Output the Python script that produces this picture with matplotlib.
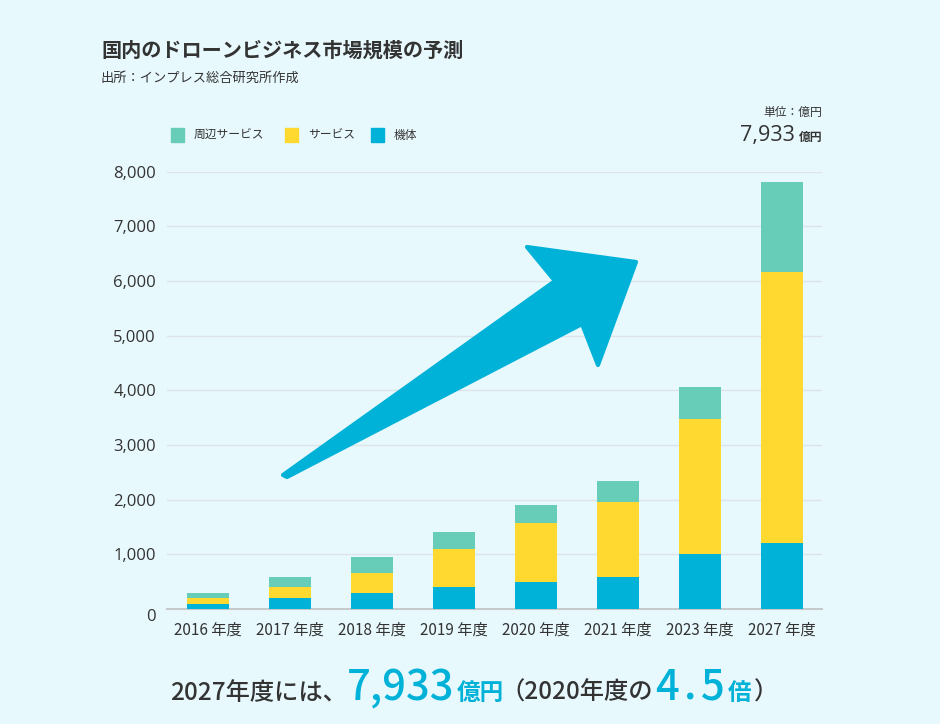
import numpy as np
import matplotlib
matplotlib.use('Agg')
import matplotlib.pyplot as plt
from matplotlib.patches import Polygon, Rectangle
import matplotlib.transforms as mtransforms

plt.rcParams['font.family'] = ['Noto Sans CJK JP', 'DejaVu Sans']

# data (億円)
years = ['2016 年度', '2017 年度', '2018 年度', '2019 年度',
         '2020 年度', '2021 年度', '2023 年度', '2027 年度']
kitai = [90, 195, 293, 395, 490, 585, 1000, 1205]          # 機体
service = [105, 200, 357, 695, 1080, 1370, 2470, 4965]     # サービス
shuhen = [98, 195, 300, 310, 340, 385, 600, 1640]          # 周辺サービス
yticks = [0, 1000, 2000, 3000, 4000, 5000, 6000, 7000, 8000]

BG = '#e8f9fe'
BLUE = '#00b1d8'
YELLOW = '#ffd92f'
TEAL = '#68cdb8'
DARK = '#333333'

W, H = 940, 724
fig = plt.figure(figsize=(W / 100, H / 100), dpi=100, facecolor=BG)
ax = fig.add_axes([167 / W, (H - 609) / H, 655 / W, (609 - 171.7) / H])
ax.set_facecolor(BG)

x = np.arange(len(years))
kitai = np.array(kitai)
service = np.array(service)
shuhen = np.array(shuhen)
bw = 0.51
ax.bar(x, kitai, bw, color=BLUE, zorder=3)
ax.bar(x, service, bw, bottom=kitai, color=YELLOW, zorder=3)
ax.bar(x, shuhen, bw, bottom=kitai + service, color=TEAL, zorder=3)

ax.set_xlim(-0.5, 7.49)
ax.set_ylim(0, 8000)
ax.set_yticks(yticks)
ax.set_yticklabels([f'{v:,}' for v in yticks], family=['Open Sans', 'DejaVu Sans'])
ax.set_xticks(x)
ax.set_xticklabels(years)
ax.tick_params(axis='both', length=0, labelsize=11, colors=DARK)
ax.tick_params(axis='y', pad=8, labelsize=12)
ax.tick_params(axis='x', pad=9)
for s in ['top', 'right', 'left']:
    ax.spines[s].set_visible(False)
ax.spines['bottom'].set_color('#c5cacc')
ax.spines['bottom'].set_linewidth(1.5)
ax.grid(axis='y', color='#dde3e6', linewidth=1, zorder=0)

# the "0" label sits a little lower than the baseline
lab0 = ax.get_yticklabels()[0]
lab0.set_transform(lab0.get_transform() +
                   mtransforms.ScaledTranslation(0, -6 / 100, fig.dpi_scale_trans))

# big arrow (pixel coords of the figure)
arrow_px = [(283, 475), (555, 281), (527, 247), (636, 262),
            (598, 365), (582, 324), (287, 477)]
arrow = Polygon([(px / W, 1 - py / H) for px, py in arrow_px], closed=True,
                transform=fig.transFigure, facecolor=BLUE, edgecolor=BLUE,
                linewidth=3, joinstyle='round', zorder=5)
fig.patches.append(arrow)

# title
fig.text(101 / W, 1 - 50 / H, '国内のドローンビジネス市場規模の予測', fontsize=14.5,
         fontweight='bold', color=DARK, va='center', ha='left')
fig.text(101 / W, 1 - 78 / H, '出所：インプレス総合研究所作成', fontsize=9.5,
         color=DARK, va='center', ha='left')

# legend
leg = [('周辺サービス', TEAL, 171), ('サービス', YELLOW, 285), ('機体', BLUE, 371)]
for name, col, px in leg:
    fig.patches.append(Rectangle((px / W, 1 - 142 / H), 13 / W, 14 / H,
                                 transform=fig.transFigure, color=col))
    fig.text((px + 23) / W, 1 - 135 / H, name, fontsize=8.5, color=DARK,
             va='center', ha='left')

# unit note
renderer = fig.canvas.get_renderer()
fig.text(822 / W, 1 - 112 / H, '単位：億円', fontsize=8.5, color=DARK,
         va='center', ha='right')
t_unit = fig.text(822 / W, 1 - 141 / H, '億円', fontsize=8.5, fontweight='bold',
                  color=DARK, va='baseline', ha='right')
ux = t_unit.get_window_extent(renderer).x0
fig.text((ux - 4) / W, 1 - 141 / H, '7,933', fontsize=15.5, color=DARK,
         va='baseline', ha='right', family=['Open Sans', 'DejaVu Sans'])

# bottom message, pieces chained left to right
pieces = [('2027年度には、', DARK, 17.5, 'medium', 0),
          ('7,933', BLUE, 30, 'medium', -2),
          ('億円', BLUE, 17, 'bold', 0),
          ('（2020年度の', DARK, 17.5, 'medium', -5),
          ('4', BLUE, 30, 'medium', 0),
          ('.', BLUE, 30, 'medium', 3),
          ('5', BLUE, 30, 'medium', 3),
          ('倍', BLUE, 17, 'bold', 1),
          ('）', DARK, 17.5, 'medium', 0)]
cur = 170
for txt, col, fs, fw, gap in pieces:
    t = fig.text((cur + gap) / W, 1 - 700 / H, txt, fontsize=fs, fontweight=fw,
                 color=col, va='baseline', ha='left')
    bb = t.get_window_extent(renderer)
    cur = bb.x1 + 2

fig.savefig('out.png', dpi=100, facecolor=BG)
